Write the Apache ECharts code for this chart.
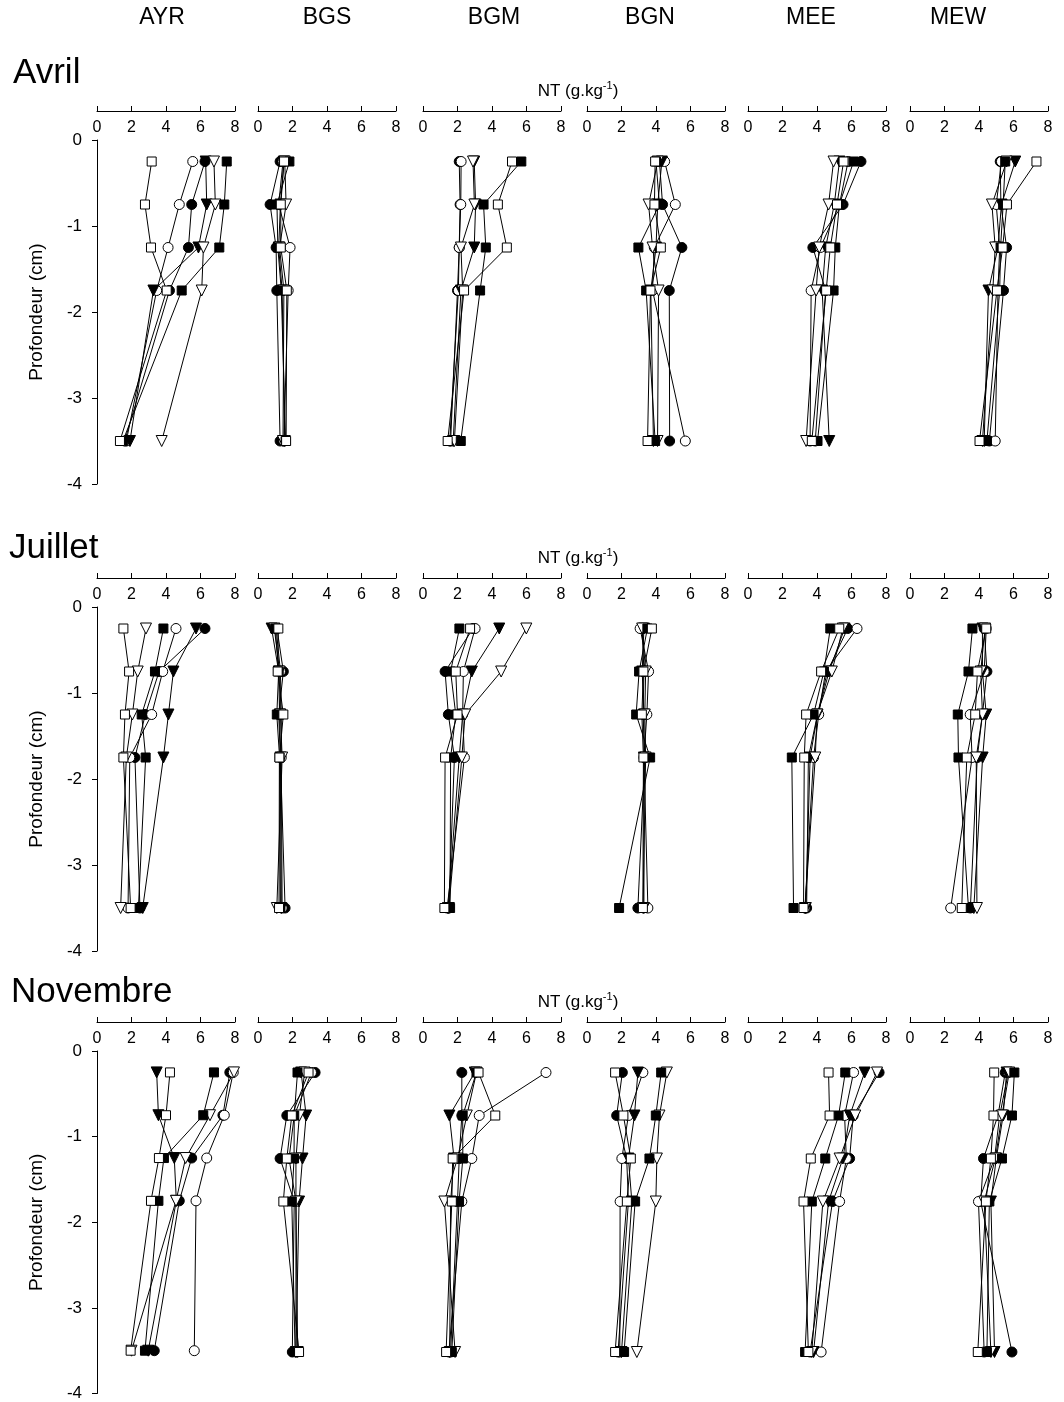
<!DOCTYPE html>
<html>
<head>
<meta charset="utf-8">
<script src="https://cdn.jsdelivr.net/npm/echarts@6/dist/echarts.min.js"></script>
<style>
  html, body { margin: 0; padding: 0; background: #fff; }
  #chart { width: 1064px; height: 1402px; }
</style>
</head>
<body>
<div id="chart"></div>
<script>
// Sites (columns), sampling months (rows) and sampled depths (cm)
const sites = ['AYR', 'BGS', 'BGM', 'BGN', 'MEE', 'MEW'];
const months = ['Avril', 'Juillet', 'Novembre'];
const depths = [-0.25, -0.75, -1.25, -1.75, -3.5];
const xTickValues = [0, 2, 4, 6, 8];
const yTickValues = [0, -1, -2, -3, -4];

// NT (g.kg-1) per site, one row of 5 depths per site, for each of the six profiles
// Avril
const avrilFilledCircle = [[6.26,5.49,5.30,4.20,1.60],[1.28,0.70,1.05,1.09,1.28],[2.10,2.15,2.10,2.00,1.60],[4.20,4.38,5.50,4.77,4.79],[6.55,5.51,3.76,4.50,3.90],[5.23,5.27,5.60,5.42,4.60]];
const avrilOpenCircle   = [[5.55,4.77,4.12,3.46,1.70],[1.45,1.20,1.86,1.75,1.50],[2.21,2.19,2.10,2.05,1.55],[4.50,5.12,3.90,3.80,5.70],[5.80,5.30,4.20,3.66,3.60],[5.30,5.00,5.20,5.10,4.94]];
const avrilFilledTri    = [[6.30,6.36,5.88,3.27,1.91],[1.50,1.30,1.20,1.40,1.55],[2.97,3.05,2.97,2.20,1.75],[4.34,4.10,4.00,3.70,3.85],[5.30,5.00,4.50,4.30,4.71],[6.10,5.30,5.10,4.55,4.30]];
const avrilOpenTri      = [[6.78,6.86,6.17,6.07,3.75],[1.55,1.63,1.25,1.50,1.45],[2.90,2.98,2.20,2.30,1.82],[4.10,3.57,3.80,4.15,4.09],[4.96,4.67,4.13,3.95,3.37],[5.60,4.75,4.94,4.80,4.20]];
const avrilFilledSquare = [[7.52,7.38,7.09,4.91,1.50],[1.82,1.10,1.15,1.35,1.60],[5.70,3.51,3.64,3.31,2.19],[4.00,4.20,2.98,3.43,3.95],[6.12,5.30,5.06,4.96,4.03],[5.52,5.40,5.25,5.20,4.46]];
const avrilOpenSquare   = [[3.17,2.78,3.13,4.04,1.33],[1.51,1.32,1.32,1.67,1.63],[5.16,4.34,4.86,2.38,1.43],[3.95,3.91,4.28,3.68,3.51],[5.54,5.16,4.77,4.53,3.70],[7.33,5.62,5.37,5.04,4.03]];
// Juillet
const juilletFilledCircle = [[6.26,3.60,2.80,2.20,2.49],[1.10,1.47,1.20,1.30,1.57],[2.90,1.28,1.47,1.82,1.50],[3.20,3.30,3.25,3.35,2.95],[5.78,4.60,4.03,3.50,3.40],[4.30,4.46,4.20,3.90,3.50]];
const juilletOpenCircle   = [[4.58,3.81,3.17,1.90,1.80],[1.05,1.30,1.35,1.35,1.40],[3.02,2.34,2.30,2.40,1.40],[3.08,3.57,3.47,3.30,3.53],[6.32,4.50,4.10,3.80,3.30],[4.42,4.30,3.49,3.60,2.36]];
const juilletFilledTri    = [[5.74,4.43,4.14,3.85,2.65],[0.79,1.20,1.25,1.30,1.35],[4.42,2.83,2.30,2.10,1.45],[3.30,3.20,3.30,3.30,3.30],[5.60,4.70,4.03,3.60,3.35],[4.20,4.20,4.42,4.21,3.70]];
const juilletOpenTri      = [[2.84,2.36,2.05,1.70,1.37],[0.95,1.25,1.30,1.40,1.09],[5.99,4.53,2.44,2.25,1.50],[3.20,3.40,3.35,3.40,3.25],[5.50,4.86,4.00,3.90,3.30],[4.35,4.10,4.20,3.84,3.88]];
const juilletFilledSquare = [[3.85,3.36,2.59,2.82,2.40],[1.00,1.20,1.09,1.25,1.30],[2.11,1.60,1.90,1.60,1.57],[3.50,3.02,2.85,3.66,1.86],[4.77,4.40,3.80,2.54,2.64],[3.62,3.39,2.77,2.81,3.39]];
const juilletOpenSquare   = [[1.53,1.86,1.62,1.53,1.95],[1.18,1.14,1.47,1.24,1.22],[2.73,1.90,2.00,1.28,1.24],[3.76,3.27,3.18,3.27,3.24],[5.29,4.24,3.37,3.26,3.22],[4.42,3.91,3.78,3.29,3.00]];
// Novembre
const novembreFilledCircle = [[7.70,7.30,5.49,4.77,3.32],[3.31,1.67,1.28,2.10,1.99],[2.25,2.25,2.10,2.00,1.60],[2.05,1.72,2.30,2.40,1.80],[7.60,6.10,5.89,4.90,3.60],[5.52,5.10,4.26,4.10,5.91]];
const novembreOpenCircle   = [[7.90,7.38,6.36,5.74,5.64],[3.10,2.10,1.80,2.20,2.20],[7.13,3.26,2.83,2.25,1.50],[3.24,2.40,2.02,1.92,1.90],[6.12,5.60,5.70,5.31,4.24],[5.70,5.20,4.90,3.97,4.30]];
const novembreFilledTri    = [[3.46,3.56,4.48,4.60,2.97],[2.50,2.79,2.58,2.38,2.20],[3.00,1.53,1.80,1.60,1.55],[2.95,2.75,2.40,2.60,2.00],[6.76,5.90,5.50,4.67,3.80],[5.60,5.40,5.00,4.69,4.90]];
const novembreOpenTri      = [[7.94,6.55,5.14,4.58,2.00],[2.70,2.40,2.20,2.20,2.30],[3.10,2.54,2.00,1.24,1.86],[4.63,4.20,4.05,3.99,2.89],[7.48,6.22,5.31,4.34,3.70],[5.75,5.33,4.95,4.30,4.69]];
const novembreFilledSquare = [[6.78,6.16,3.88,3.56,2.78],[2.29,2.10,2.09,1.96,2.15],[3.10,2.30,2.31,2.09,1.67],[4.30,3.99,3.62,2.79,2.15],[5.64,5.25,4.48,3.70,3.31],[6.05,5.91,5.33,4.60,4.46]];
const novembreOpenSquare   = [[4.23,4.00,3.59,3.13,1.95],[2.93,1.96,1.67,1.47,2.38],[3.22,4.19,1.72,1.67,1.34],[1.63,2.11,2.54,2.31,1.63],[4.67,4.73,3.64,3.22,3.50],[4.88,4.84,4.69,4.40,3.93]];

const monthData = [
  [avrilFilledCircle, avrilOpenCircle, avrilFilledTri, avrilOpenTri, avrilFilledSquare, avrilOpenSquare],
  [juilletFilledCircle, juilletOpenCircle, juilletFilledTri, juilletOpenTri, juilletFilledSquare, juilletOpenSquare],
  [novembreFilledCircle, novembreOpenCircle, novembreFilledTri, novembreOpenTri, novembreFilledSquare, novembreOpenSquare]
];

// Marker look for each profile (same order as the arrays above)
const markers = [
  { symbol: 'circle',   size: 10, fill: '#000', rotate: 0 },
  { symbol: 'circle',   size: 10, fill: '#fff', rotate: 0 },
  { symbol: 'triangle', size: 11, fill: '#000', rotate: 180 },
  { symbol: 'triangle', size: 11, fill: '#fff', rotate: 180 },
  { symbol: 'rect',     size: 9,  fill: '#000', rotate: 0 },
  { symbol: 'rect',     size: 9,  fill: '#fff', rotate: 0 }
];

// Panel geometry
const colLeft = [97, 258, 423, 587, 748, 910];
const colWidth = 138;
const rowTop = [140, 607, 1051];
const rowHeight = 344;
const headerX = [162, 327, 494, 650, 811, 958];
const titlePos = [[13, 73], [9, 548], [11, 992]];

const FONT = '"Liberation Sans", Arial, Helvetica, sans-serif';

const grid = [], xAxis = [], yAxis = [], series = [];

months.forEach((month, r) => {
  sites.forEach((site, c) => {
    const idx = r * sites.length + c;
    grid.push({ left: colLeft[c], top: rowTop[r], width: colWidth, height: rowHeight, containLabel: false });
    xAxis.push({
      gridIndex: idx, type: 'value', min: xTickValues[0], max: xTickValues[xTickValues.length - 1],
      interval: xTickValues[1] - xTickValues[0], position: 'top', offset: 29,
      axisLine: { show: true, onZero: false, lineStyle: { color: '#000', width: 1 } },
      axisTick: { show: true, inside: false, length: 5, lineStyle: { color: '#000', width: 1 } },
      axisLabel: { show: true, inside: true, margin: 9, fontSize: 16, color: '#000', fontFamily: FONT },
      splitLine: { show: false }
    });
    yAxis.push({
      gridIndex: idx, type: 'value', min: yTickValues[yTickValues.length - 1], max: yTickValues[0],
      interval: 1, show: c === 0,
      axisLine: { show: true, onZero: false, lineStyle: { color: '#000', width: 1 } },
      axisTick: { show: true, inside: false, length: 5, lineStyle: { color: '#000', width: 1 } },
      axisLabel: { fontSize: 17, color: '#000', margin: 15, fontFamily: FONT },
      splitLine: { show: false },
      name: 'Profondeur (cm)', nameLocation: 'middle', nameGap: 51, nameRotate: 90,
      nameTextStyle: { fontSize: 19, color: '#000', fontFamily: FONT }
    });

    monthData[r].forEach((profile, m) => {
      const pts = depths.map((d, i) => [profile[c][i], d]);
      series.push({
        type: 'line', xAxisIndex: idx, yAxisIndex: idx, data: pts,
        symbol: 'none', lineStyle: { color: '#000', width: 1 }, z: 2, silent: true
      });
      const mk = markers[m];
      series.push({
        type: 'scatter', xAxisIndex: idx, yAxisIndex: idx, data: pts,
        symbol: mk.symbol, symbolSize: mk.size, symbolRotate: mk.rotate,
        itemStyle: { color: mk.fill, borderColor: '#000', borderWidth: 1, opacity: 1 },
        z: 3 + m, silent: true
      });
    });
  });
});

const graphic = [];
sites.forEach((s, c) => {
  graphic.push({ type: 'text', x: headerX[c], y: 18,
    style: { text: s, font: '23px ' + FONT, fill: '#000', textAlign: 'center', textVerticalAlign: 'middle' } });
});
months.forEach((m, r) => {
  graphic.push({ type: 'text', x: titlePos[r][0], y: titlePos[r][1],
    style: { text: m, font: '35px ' + FONT, fill: '#000', textVerticalAlign: 'middle' } });
  graphic.push({ type: 'text', x: 578, y: rowTop[r] - 50,
    style: {
      text: '{a|NT (g.kg}{s|-1}{a|)}', textAlign: 'center', textVerticalAlign: 'middle',
      rich: {
        a: { fontSize: 17, fontFamily: FONT, fill: '#000', color: '#000', lineHeight: 20, verticalAlign: 'bottom' },
        s: { fontSize: 11, fontFamily: FONT, fill: '#000', color: '#000', lineHeight: 20, verticalAlign: 'top', padding: [0, 0, 7, 0] }
      }
    } });
});

const chart = echarts.init(document.getElementById('chart'), null, { renderer: 'canvas' });
chart.setOption({
  animation: false,
  backgroundColor: '#fff',
  textStyle: { fontFamily: FONT },
  grid, xAxis, yAxis, series, graphic
});
</script>
</body>
</html>
